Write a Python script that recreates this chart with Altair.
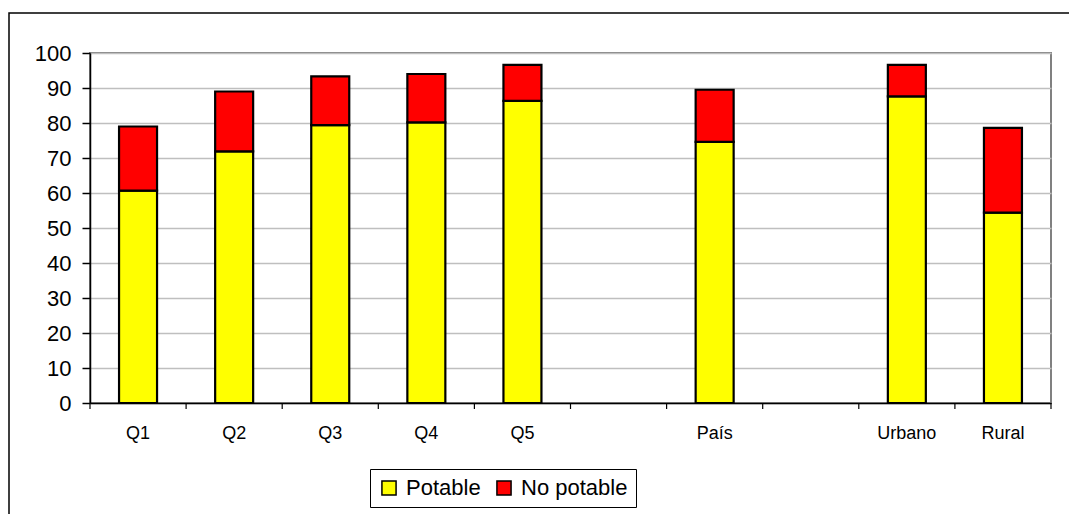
import altair as alt
import pandas as pd

# Category slots along the x axis (two empty slots separate the groups)
slots = ["Q1", "Q2", "Q3", "Q4", "Q5", "gap1", "País", "gap2", "Urbano", "Rural"]
categories = ["Q1", "Q2", "Q3", "Q4", "Q5", "País", "Urbano", "Rural"]
potable = [60.7, 71.9, 79.4, 80.2, 86.3, 74.6, 87.6, 54.4]
no_potable = [18.3, 17.1, 13.9, 13.8, 10.3, 14.9, 9.0, 24.2]
series = ["Potable", "No potable"]
colors = ["#ffff00", "#ff0000"]
y_ticks = list(range(0, 101, 10))

rows = []
for cat, p, n in zip(categories, potable, no_potable):
    rows.append({"cat": cat, "tipo": "Potable", "valor": p, "ord": 0})
    rows.append({"cat": cat, "tipo": "No potable", "valor": n, "ord": 1})
df = pd.DataFrame(rows)

W, H = 961, 350
FONT = "Liberation Sans, Arial"

x_scale = alt.Scale(domain=slots, paddingInner=0, paddingOuter=0)

bars = alt.Chart(df).mark_bar(size=38, stroke="black", strokeWidth=2.2).encode(
    x=alt.X(
        "cat:N",
        scale=x_scale,
        title=None,
        axis=alt.Axis(
            labelAngle=0,
            ticks=False,
            labelPadding=21,
            labelFontSize=18,
            labelFont=FONT,
            labelColor="black",
            domainColor="black",
            domainWidth=1.5,
            grid=False,
            labelExpr="indexof(datum.value, 'gap') == 0 ? '' : datum.value",
        ),
    ),
    y=alt.Y(
        "valor:Q",
        stack="zero",
        scale=alt.Scale(domain=[0, 100], nice=False),
        title=None,
        axis=alt.Axis(
            values=y_ticks,
            tickSize=8,
            tickColor="black",
            tickWidth=1.5,
            labelPadding=11,
            labelFontSize=22,
            labelFont=FONT,
            labelColor="black",
            domainColor="black",
            domainWidth=1.5,
            gridColor="#bfbfbf",
            gridWidth=1.5,
        ),
    ),
    color=alt.Color(
        "tipo:N",
        scale=alt.Scale(domain=series, range=colors),
        legend=alt.Legend(
            title=None,
            orient="none",
            legendX=280,
            legendY=416,
            direction="horizontal",
            strokeColor="black",
            fillColor="white",
            padding=8,
            symbolType="square",
            symbolSize=200,
            symbolStrokeColor="black",
            symbolStrokeWidth=1.5,
            labelFontSize=22,
            labelFont=FONT,
            labelColor="black",
            labelOffset=6,
            columnPadding=12,
        ),
    ),
    order=alt.Order("ord:Q"),
)

# Tick marks at the slot boundaries of the category axis
tick_df = pd.DataFrame({"slot": slots})
edge_ticks = alt.Chart(tick_df).mark_rule(color="black", strokeWidth=1.2).encode(
    x=alt.X("slot:N", scale=x_scale, bandPosition=0),
    y=alt.value(H),
    y2=alt.value(H + 6),
)
end_tick = alt.Chart(pd.DataFrame({"slot": [slots[-1]]})).mark_rule(
    color="black", strokeWidth=1.2
).encode(
    x=alt.X("slot:N", scale=x_scale, bandPosition=1),
    y=alt.value(H),
    y2=alt.value(H + 6),
)

# Outer frame around the whole chart area
frame = alt.Chart(pd.DataFrame({"f": [0]})).mark_rect(
    fillOpacity=0, stroke="black", strokeWidth=1.5, clip=False
).encode(
    x=alt.value(-81),
    x2=alt.value(1000),
    y=alt.value(-40),
    y2=alt.value(480),
)

chart = (
    alt.layer(frame, bars, edge_ticks, end_tick)
    .properties(
        width=W,
        height=H,
        autosize=alt.AutoSizeParams(type="none"),
        padding={"left": 90, "top": 53, "right": 18, "bottom": 111},
        background="white",
    )
    .configure_view(stroke="#808080", strokeWidth=2)
)

chart.save("out.html", embed_options={"renderer": "svg", "actions": False})
